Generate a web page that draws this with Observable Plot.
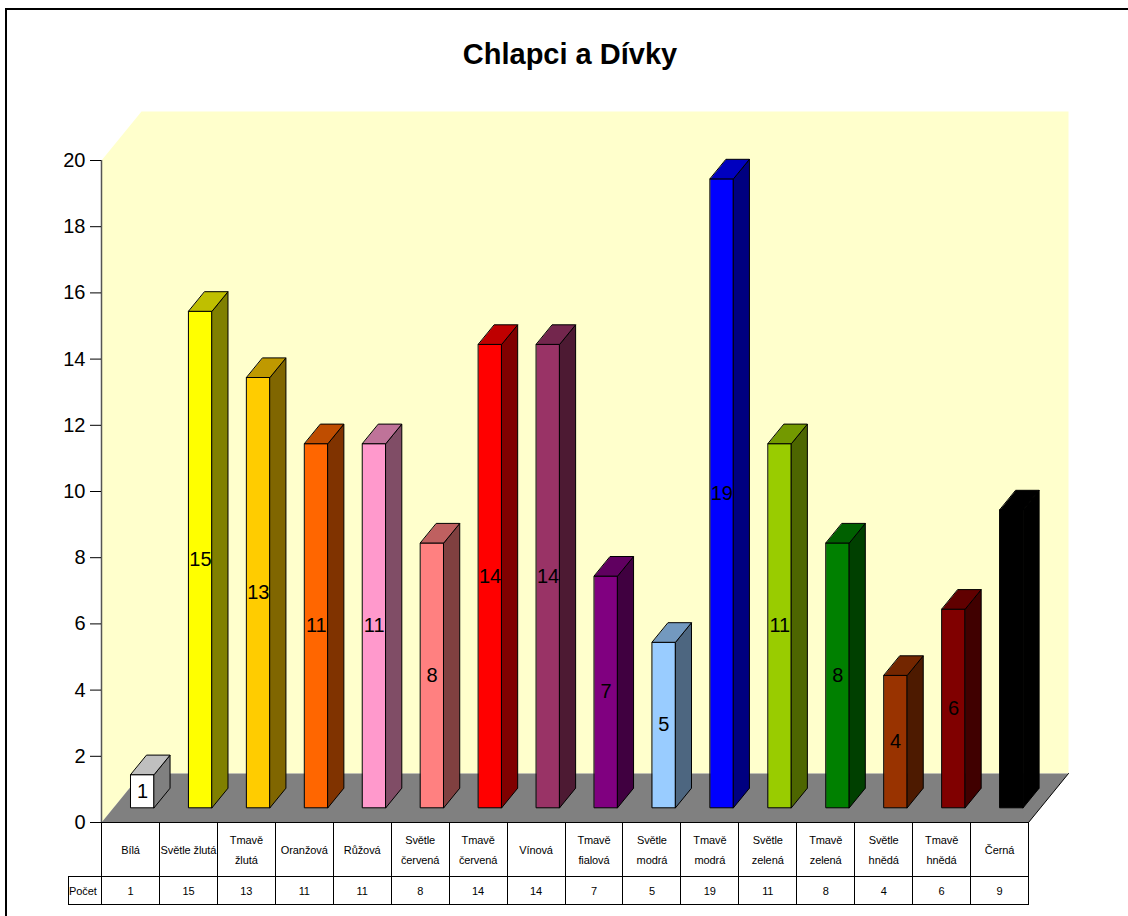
<!DOCTYPE html>
<html><head><meta charset="utf-8">
<script src="https://cdn.jsdelivr.net/npm/d3@7"></script>
<script src="https://cdn.jsdelivr.net/npm/@observablehq/plot@0.6"></script>
<style>
body{margin:0;background:#fff;font-family:"Liberation Sans",Arial,sans-serif;}
#frame{position:absolute;left:5px;top:8px;width:1200px;height:1000px;border-left:2px solid #000;border-top:2px solid #000;}
#title{position:absolute;left:0;top:40px;width:1140px;text-align:center;font-weight:bold;font-size:29px;line-height:29px;}
#chart{position:absolute;left:0;top:0;}
#tbl{position:absolute;left:68px;top:822px;border-collapse:collapse;table-layout:fixed;width:960px;font-size:11px;letter-spacing:-0.1px;}
#tbl td{border:1px solid #000;text-align:center;padding:0;line-height:20px;overflow:hidden;}
#tbl tr.r1 td{height:53px;}
#tbl tr.r2 td{height:27px;}
#tbl td.empty{border:none;border-right:1px solid #000;}
</style></head><body>
<div id="frame"></div>
<div id="title">Chlapci a Dívky</div>
<div id="chart"></div>
<table id="tbl"></table>
<script>
const categories = ["Bílá","Světle žlutá","Tmavě žlutá","Oranžová","Růžová","Světle červená","Tmavě červená","Vínová","Tmavě fialová","Světle modrá","Tmavě modrá","Světle zelená","Tmavě zelená","Světle hnědá","Tmavě hnědá","Černá"];
const values = [1,15,13,11,11,8,14,14,7,5,19,11,8,4,6,9];
const colors = ["#ffffff","#ffff00","#ffcc00","#ff6600","#ff99cc","#ff8080","#ff0000","#993366","#800080","#99ccff","#0000ff","#99cc00","#008000","#993300","#800000","#000000"];
const yTicks = [0,2,4,6,8,10,12,14,16,18,20];
const seriesName = "Počet";

const W = 1128, H = 830, mL = 101, mR = 100, mT = 160, mB = 8;
const yMax = 20, n = categories.length;
const pxX = (W - mL - mR) / n, pxY = (H - mT - mB) / yMax;
const kx = 40 / pxX, ky = 49 / pxY;          // full depth offset in data units
const proj = ([x, y, d]) => [x + d * kx, y + d * ky];

function poly(id, pts, fill) {
  return pts.map(p => { const [x, y] = proj(p); return {id, x, y, fill}; });
}
const shade = (c, k) => { const o = d3.rgb(c); return d3.rgb(o.r * k, o.g * k, o.b * k).formatHex(); };

const wall = poly("wall", [[0,0,0],[0,yMax,0],[0,yMax,1],[n,yMax,1],[n,0,1],[0,0,1]], "#ffffcc");
const floor = poly("floor", [[0,0,0],[n,0,0],[n,0,1],[0,0,1]], "#808080");
const floorEdge = poly("edge", [[0,0,0],[n,0,0],[n,0,1]], "none");

const d0 = 0.3, d1 = 0.7, w0 = 0.3, w1 = 0.7;
const barPolys = [];
const labels = [];
values.forEach((v, i) => {
  const xl = i + w0, xr = i + w1, c = colors[i];
  barPolys.push(...poly("f" + i, [[xl,0,d0],[xr,0,d0],[xr,v,d0],[xl,v,d0]], c));
  barPolys.push(...poly("s" + i, [[xr,0,d0],[xr,0,d1],[xr,v,d1],[xr,v,d0]], shade(c, 0.5)));
  barPolys.push(...poly("t" + i, [[xl,v,d0],[xr,v,d0],[xr,v,d1],[xl,v,d1]], shade(c, 0.75)));
  const [lx, ly] = proj([i + 0.5 + (d0 - d0), v / 2, d0]);
  labels.push({x: proj([i + (w0 + w1) / 2, v / 2, d0])[0], y: ly, t: String(v)});
});

const marks = [
  Plot.line(wall, {x: "x", y: "y", z: "id", fill: "fill", stroke: "none", curve: "linear-closed"}),
  Plot.line(floor, {x: "x", y: "y", z: "id", fill: "fill", stroke: "none", curve: "linear-closed"}),
  Plot.line(floorEdge, {x: "x", y: "y", z: "id", stroke: "#000", strokeWidth: 1}),
  Plot.line(barPolys, {x: "x", y: "y", z: "id", fill: "fill", stroke: "#000", strokeWidth: 1, curve: "linear-closed"}),
  Plot.text(labels, {x: "x", y: "y", text: "t", fontSize: 20, fill: "#000"}),
  Plot.ruleX([0], {y1: 0, y2: yMax, stroke: "#555", strokeWidth: 1.5}),
];
if (Plot.axisY) {
  marks.push(Plot.axisY(yTicks, {anchor: "left", tickSize: 11, tickPadding: 5, fontSize: 20, label: null, stroke: "#000"}));
}

const chart = Plot.plot({
  width: W, height: H,
  marginLeft: mL, marginRight: mR, marginTop: mT, marginBottom: mB,
  x: {domain: [0, n], axis: null},
  y: {domain: [0, yMax], axis: Plot.axisY ? null : "left", ticks: 10, tickSize: 11, label: null},
  color: {type: "identity"},
  style: {fontFamily: "'Liberation Sans', Arial, sans-serif", fontSize: "20px", background: "transparent", overflow: "visible", color: "#000"},
  marks
});
document.getElementById("chart").appendChild(chart);

// data table below the plot
const tbl = document.getElementById("tbl");
const cg = document.createElement("colgroup");
const c0 = document.createElement("col"); c0.style.width = (mL - 68) + "px"; cg.appendChild(c0);
categories.forEach(() => { const c = document.createElement("col"); c.style.width = pxX + "px"; cg.appendChild(c); });
tbl.appendChild(cg);
const r1 = document.createElement("tr"); r1.className = "r1";
const e = document.createElement("td"); e.className = "empty"; r1.appendChild(e);
categories.forEach(cat => { const td = document.createElement("td"); td.textContent = cat; r1.appendChild(td); });
tbl.appendChild(r1);
const r2 = document.createElement("tr"); r2.className = "r2";
const h = document.createElement("td"); h.textContent = seriesName; h.style.textAlign = "left"; r2.appendChild(h);
values.forEach(v => { const td = document.createElement("td"); td.textContent = v; r2.appendChild(td); });
tbl.appendChild(r2);
</script>
</body></html>
